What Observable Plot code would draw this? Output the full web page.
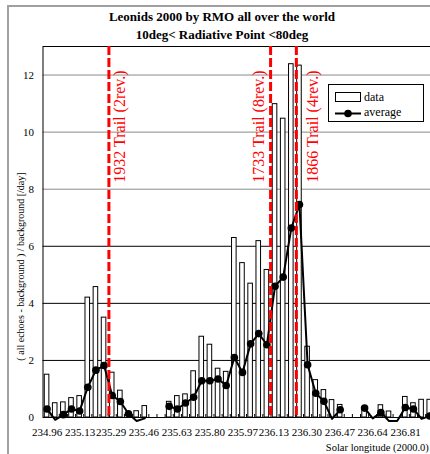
<!DOCTYPE html>
<html>
<head>
<meta charset="utf-8">
<script src="https://cdn.jsdelivr.net/npm/d3@7"></script>
<script src="https://cdn.jsdelivr.net/npm/@observablehq/plot@0.6"></script>
<style>
  html, body { margin: 0; padding: 0; width: 430px; height: 454px; overflow: hidden; background: #fff; }
  #wrap { position: relative; width: 445px; height: 454px; }
  #outer { position: absolute; left: 7px; top: 5px; width: 500px; height: 500px;
           border-left: 2px solid #a0a0a0; border-top: 2px solid #a0a0a0; }
  #title { height: 40px; box-sizing: border-box; padding-top: 8px; width: 444px;
           text-align: center; font: bold 13px "Liberation Serif", "Times New Roman", serif;
           line-height: 18px; color: #000; }
  #legend { position: absolute; left: 328px; top: 84px; }
</style>
</head>
<body>
<div id="wrap">
  <div id="outer"></div>
  <div id="title">Leonids 2000 by RMO all over the world<br>10deg&lt; Radiative Point &lt;80deg</div>
  <div id="chart"></div>
  <svg id="legend" width="96" height="38" font-family="Liberation Serif, Times New Roman, serif">
    <rect x="0.5" y="0.5" width="95" height="37" fill="#fff" stroke="#000"/>
    <rect x="7.5" y="8.5" width="25" height="9" fill="#fff" stroke="#000"/>
    <text x="36" y="16.5" font-size="12">data</text>
    <line x1="7" x2="33" y1="29.5" y2="29.5" stroke="#000" stroke-width="2"/>
    <circle cx="20" cy="29.5" r="3.8" fill="#000"/>
    <text x="36" y="32" font-size="12">average</text>
  </svg>
</div>
<script>
// Solar longitude (2000.0) of each hourly category
const lon = [234.960, 235.002, 235.044, 235.086, 235.128, 235.170, 235.212, 235.254,
             235.296, 235.338, 235.380, 235.422, 235.464, 235.506, 235.548, 235.590,
             235.632, 235.674, 235.716, 235.758, 235.800, 235.842, 235.884, 235.926,
             235.968, 236.010, 236.052, 236.094, 236.136, 236.178, 236.220, 236.262,
             236.304, 236.346, 236.388, 236.430, 236.472, 236.514, 236.556, 236.598,
             236.640, 236.682, 236.724, 236.766, 236.808, 236.850, 236.892, 236.934];
// "data" bars
const dataVals = [1.50, 0.50, 0.53, 0.68, 0.75, 4.20, 4.57, 3.50,
                  1.57, 0.94, null, 0.22, 0.40, null, null, 0.55,
                  0.75, 0.81, 1.62, 2.83, 2.55, 1.71, 1.60, 6.29,
                  5.41, 4.69, 6.18, 5.17, 10.98, 10.47, 12.38, 12.33,
                  2.48, 1.31, 0.96, 0.61, 0.44, null, null, 0.28,
                  null, 0.43, 0.21, null, 0.72, 0.50, 0.62, 0.62];
// "average" line
const avgVals = [0.30, -0.08, 0.10, 0.30, 0.23, 1.06, 1.66, 1.82,
                 0.77, 0.56, 0.13, -0.12, -0.03, null, null, 0.39,
                 0.30, 0.51, 0.71, 1.29, 1.29, 1.35, 1.12, 2.10,
                 1.58, 2.58, 2.94, 2.55, 4.60, 4.92, 6.64, 7.46,
                 1.85, 0.85, 0.57, -0.05, 0.27, null, null, 0.33,
                 -0.03, 0.17, -0.12, -0.12, 0.35, 0.30, -0.05, 0.05];
const tickLabels = ["234.96", "235.13", "235.29", "235.46", "235.63", "235.80",
                    "235.97", "236.13", "236.30", "236.47", "236.64", "236.81"];
const yTicks = [0, 2, 4, 6, 8, 10, 12];
const trailNames = ["1932 Trail (2rev.)", "1733 Trail (8rev.)", "1866 Trail (4rev.)"];
const trailLon = [235.279, 236.113, 236.246];

const rows = lon.map((x, i) => ({lon: x, v: dataVals[i], a: avgVals[i]}));
const bounds = lon.slice(1).map((d, i) => (d + lon[i]) / 2);
const halfStep = (lon[1] - lon[0]) / 2;
const hw = 0.0118;
const serif = "Liberation Serif, Times New Roman, serif";
const trailDx = [10.5, -12, 16.5];

const trailMarks = trailNames.map((name, i) =>
  Plot.text([name], {
    x: () => trailLon[i], frameAnchor: "top", dy: 80, dx: trailDx[i],
    text: d => d, rotate: -90, textAnchor: "middle", lineAnchor: "middle",
    fill: "#ff0000", fontSize: 16, fontFamily: serif
  })
);

const chart = Plot.plot({
  width: 445, height: 414,
  marginTop: 6, marginBottom: 37, marginLeft: 42.5, marginRight: 11.7,
  style: {fontFamily: serif, fontSize: "11px", color: "#000", background: "transparent", maxWidth: "none", overflow: "visible"},
  x: {type: "linear", domain: [lon[0] - halfStep, lon[lon.length - 1] + halfStep], label: null},
  y: {domain: [0, 13], label: null},
  marks: [
    Plot.ruleY(yTicks.filter(d => d > 0 && d < 8), {y: d => d, stroke: "#000"}),
    Plot.ruleY(yTicks.filter(d => d >= 8), {y: d => d, stroke: "#8a8a8a"}),
    Plot.rect(rows.filter(d => d.v != null), {
      x1: d => d.lon - hw, x2: d => d.lon + hw, y1: 0, y2: "v",
      fill: "#fff", stroke: "#000", strokeWidth: 1
    }),
    Plot.tickX(bounds, {x: d => d, insetTop: 368, stroke: "#000"}),
    Plot.frame({stroke: "#000"}),
    Plot.axisY({ticks: yTicks, tickSize: 0, tickPadding: 9, fontSize: 11, fontFamily: serif, label: null}),
    Plot.axisX({ticks: tickLabels.map(Number), tickFormat: d => d.toFixed(2), tickSize: 0, tickPadding: 11, fontSize: 11, fontFamily: serif, label: null}),
    Plot.line(rows, {x: "lon", y: "a", stroke: "#000", strokeWidth: 2}),
    Plot.dot(rows.filter(d => d.a != null && d.a >= 0), {x: "lon", y: "a", r: 3.8, fill: "#000"}),
    Plot.ruleX(trailLon, {x: d => d, stroke: "#ff0000", strokeWidth: 3, strokeDasharray: "9,3"}),
    ...trailMarks,
    Plot.text(["( all echoes - background ) / background [/day]"], {
      frameAnchor: "left", text: d => d, rotate: -90, dx: -22.5, dy: 34.5,
      textAnchor: "middle", lineAnchor: "middle", fontSize: 10, fontFamily: serif, fill: "#000"
    }),
    Plot.text(["Solar longitude (2000.0)"], {
      frameAnchor: "bottom-right", text: d => d, dy: 30, dx: -5,
      textAnchor: "end", lineAnchor: "middle", fontSize: 10.5, fontFamily: serif, fill: "#000"
    })
  ]
});
document.getElementById("chart").appendChild(chart);
</script>
</body>
</html>
